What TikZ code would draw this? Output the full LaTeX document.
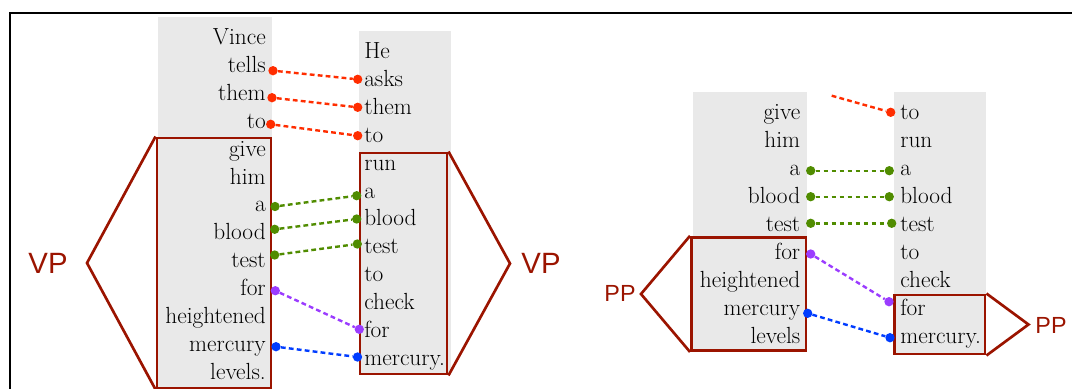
\documentclass[tikz,border=0pt]{standalone}
\usepackage{fontspec}
\usepackage{tikz}
\usetikzlibrary{positioning, fit, calc}
\newfontfamily\tagfont{Liberation Sans}
\definecolor{phrasered}{RGB}{155,20,0}
\definecolor{stripgray}{RGB}{233,233,233}
\definecolor{linkred}{RGB}{255,45,0}
\definecolor{linkgreen}{RGB}{80,140,0}
\definecolor{linkpurple}{RGB}{155,60,255}
\definecolor{linkblue}{RGB}{0,60,255}
\tikzset{
	x=0.75pt, y=-0.75pt, % one unit is one pixel, y runs downwards
	strip/.style={fill=stripgray, inner sep=0pt}, % grey strip behind a sentence
	phrase/.style={draw=phrasered, line width=2.2pt, inner sep=0pt}, % box round a phrase
	bracket/.style={draw=phrasered, line width=2pt}, % the angle pointing at the tag
	phrasetag/.style={text=phrasered, inner sep=0pt, font=\tagfont\fontsize{22}{22}\selectfont},
	smalltag/.style={phrasetag, font=\tagfont\fontsize{17.5}{17.5}\selectfont},
	lword/.style={anchor=base east, inner sep=0pt, font=\fontsize{17.5}{20}\selectfont}, % right aligned words
	rword/.style={anchor=base west, inner sep=0pt, font=\fontsize{17.5}{20}\selectfont}, % left aligned words
	wdot/.style={circle, fill=#1, inner sep=0pt, minimum size=7pt}, % end of an alignment
	link/.style={draw=#1, line width=1.8pt, dash pattern=on 3.6pt off 2.4pt}, % alignment line
}
\begin{document}
\begin{tikzpicture}
        \useasboundingbox (0,0) rectangle (1072,389);
        \draw[line width=1.8pt] (10,389) -- (10,13) -- (1072,13);

        % Grey strips and phrase boxes
        \node[strip, fit={(158,17) (272,389)}] (stripA) {};
        \node[strip, fit={(359,31) (451,375)}] (stripB) {};
        \node[strip, fit={(693,92) (807,351)}] (stripC) {};
        \node[strip, fit={(894,92) (986,355)}] (stripD) {};
        \node[phrase, fit={(157,138) (271,388)}] (vpA) {};
        \node[phrase, fit={(360,153) (447,374)}] (vpB) {};
        \node[phrase, fit={(691.5,237.3) (806,350.5)}] (ppC) {};
        \node[phrase, fit={(894.5,295) (985,354)}] (ppD) {};

        % Words of the four sentences
        \foreach \w [count=\i from 0] in {Vince,tells,them,to,give,him,a,blood,test,for,heightened,mercury,levels.}
            \node[lword] (sA\i) at (266,{44.5+27.9*\i}) {\w};
        \foreach \w [count=\i from 0] in {He,asks,them,to,run,a,blood,test,to,check,for,mercury.}
            \node[rword] (sB\i) at (364,{58.5+27.9*\i}) {\w};
        \foreach \w [count=\i from 0] in {give,him,a,blood,test,for,heightened,mercury,levels}
            \node[lword] (sC\i) at (800.5,{119.8+27.9*\i}) {\w};
        \foreach \w [count=\i from 0] in {to,run,a,blood,test,to,check,for,mercury.}
            \node[rword] (sD\i) at (900,{119.8+27.9*\i}) {\w};

        % Tags and the angles pointing at them
        \node[phrasetag] (vpLtag) at (48,263) {VP};
        \node[phrasetag] (vpRtag) at (541,263) {VP};
        \node[smalltag] (ppLtag) at (620,293) {PP};
        \node[smalltag] (ppRtag) at (1051,325) {PP};
        \coordinate (vpLtip) at (87,263);
        \coordinate (vpRtip) at (510,263.5);
        \coordinate (ppLtip) at (641,294);
        \coordinate (ppRtip) at (1028.5,324.5);
        \draw[bracket] (vpA.north west) -- (vpLtip) -- (vpA.south west);
        \draw[bracket] (vpB.north east) -- (vpRtip) -- (vpB.south east);
        \draw[bracket] (ppC.north west) -- (ppLtip) -- (ppC.south west);
        \draw[bracket] (ppD.north east) -- (ppRtip) -- (ppD.south east);

        % Alignment dots
        \node[wdot=linkred] (tellsA) at (273,70.7) {};
        \node[wdot=linkred] (themA) at (272,97.7) {};
        \node[wdot=linkred] (toA) at (270.7,124.3) {};
        \node[wdot=linkred] (asksB) at (357.7,79.3) {};
        \node[wdot=linkred] (themB) at (357.7,107.3) {};
        \node[wdot=linkred] (toB) at (357.7,135.7) {};
        \node[wdot=linkgreen] (aA) at (275,206.5) {};
        \node[wdot=linkgreen] (bloodA) at (274.7,229.3) {};
        \node[wdot=linkgreen] (testA) at (274.7,255) {};
        \node[wdot=linkgreen] (aB) at (356.7,195.7) {};
        \node[wdot=linkgreen] (bloodB) at (356.7,219) {};
        \node[wdot=linkgreen] (testB) at (357.3,244) {};
        \node[wdot=linkpurple] (forA) at (275.3,290.7) {};
        \node[wdot=linkpurple] (forB) at (359.3,329.3) {};
        \node[wdot=linkblue] (mercA) at (276,346.7) {};
        \node[wdot=linkblue] (mercB) at (357.5,357) {};
        \coordinate (toC) at (831.7,95.7);
        \node[wdot=linkred] (toD) at (890.7,112.3) {};
        \node[wdot=linkgreen] (aC) at (810.7,170.7) {};
        \node[wdot=linkgreen] (aD) at (889.3,170.7) {};
        \node[wdot=linkgreen] (bloodC) at (810.7,196.7) {};
        \node[wdot=linkgreen] (bloodD) at (889.3,196.7) {};
        \node[wdot=linkgreen] (testC) at (810.7,223.3) {};
        \node[wdot=linkgreen] (testD) at (891.7,223.3) {};
        \node[wdot=linkpurple] (forC) at (810.7,254) {};
        \node[wdot=linkpurple] (forD) at (889,301.7) {};
        \node[wdot=linkblue] (mercC) at (807.7,313.3) {};
        \node[wdot=linkblue] (mercD) at (890,337.7) {};

        % Alignment lines
        \draw[link=linkred] (tellsA) -- (asksB);
        \draw[link=linkred] (themA) -- (themB);
        \draw[link=linkred] (toA) -- (toB);
        \draw[link=linkgreen] (aA) -- (aB);
        \draw[link=linkgreen] (bloodA) -- (bloodB);
        \draw[link=linkgreen] (testA) -- (testB);
        \draw[link=linkpurple] (forA) -- (forB);
        \draw[link=linkblue] (mercA) -- (mercB);
        \draw[link=linkred] (toC) -- (toD);
        \draw[link=linkgreen] (aC) -- (aD);
        \draw[link=linkgreen] (bloodC) -- (bloodD);
        \draw[link=linkgreen] (testC) -- (testD);
        \draw[link=linkpurple] (forC) -- (forD);
        \draw[link=linkblue] (mercC) -- (mercD);
\end{tikzpicture}
\end{document}
